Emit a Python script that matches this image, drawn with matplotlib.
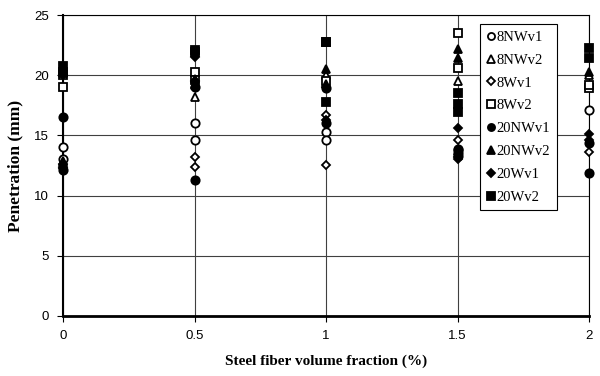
"""Penetration vs steel fiber volume fraction scatter."""

import matplotlib.pyplot as plt

fraction = [0, 0.5, 1, 1.5, 2]

# penetration (mm), replicates per fraction
pen_8nwv1 = [[14.0, 13.0], [16.0, 14.6], [15.3, 14.6], [13.5, 13.8], [17.1]]
pen_8nwv2 = [[12.5, 12.8], [18.2, 19.3], [22.8, 20.0], [19.5, 13.7], [20.0]]
pen_8wv1 = [[12.3, 12.6], [13.2, 12.4], [16.7, 12.5], [14.6, 13.2], [13.6]]
pen_8wv2 = [[19.0, 20.0], [20.3, 19.6], [22.8, 19.5], [23.5, 20.6], [18.9, 19.2]]
pen_20nwv1 = [[16.5, 12.1], [11.3, 19.0], [16.0, 18.9], [13.3, 13.9], [11.9, 14.4]]
pen_20nwv2 = [[20.2, 12.9], [19.7, 19.2], [20.5, 19.3], [22.2, 21.4], [20.3]]
pen_20wv1 = [[20.0, 12.4], [21.5, 19.5], [16.3, 19.0], [15.6, 13.0], [15.1, 14.6]]
pen_20wv2 = [[20.8, 20.3], [22.1, 21.9], [22.8, 17.8], [18.5, 17.6, 16.9], [22.3, 21.4]]

series = [
    ("8NWv1", pen_8nwv1, "o", "white"),
    ("8NWv2", pen_8nwv2, "^", "white"),
    ("8Wv1", pen_8wv1, "D", "white"),
    ("8Wv2", pen_8wv2, "s", "white"),
    ("20NWv1", pen_20nwv1, "o", "black"),
    ("20NWv2", pen_20nwv2, "^", "black"),
    ("20Wv1", pen_20wv1, "D", "black"),
    ("20Wv2", pen_20wv2, "s", "black"),
]

fig = plt.figure(figsize=(6, 3.76), dpi=100)
ax = fig.add_axes([0.105, 0.16, 0.877, 0.80])

for name, values, marker, face in series:
    xs = [x for x, reps in zip(fraction, values) for _ in reps]
    ys = [y for reps in values for y in reps]
    size = 4.5 if marker == "D" else 6
    ax.plot(xs, ys, linestyle="none", marker=marker, markersize=size,
            markerfacecolor=face, markeredgecolor="black",
            markeredgewidth=1.3, label=name, clip_on=False, zorder=3)

ax.set_xlim(0, 2)
ax.set_ylim(0, 25)
ax.set_xticks([0, 0.5, 1, 1.5, 2])
ax.set_xticklabels(["0", "0.5", "1", "1.5", "2"])
ax.set_yticks(range(0, 26, 5))
ax.grid(True, color="0.25", linewidth=0.8)
ax.set_axisbelow(True)

for side in ["top", "right"]:
    ax.spines[side].set_linewidth(0.8)
ax.spines["left"].set_linewidth(1.5)
ax.spines["bottom"].set_linewidth(2.0)
ax.tick_params(direction="out", length=4, width=0.8, labelsize=9.5,
               pad=6)
for lab in ax.get_xticklabels() + ax.get_yticklabels():
    lab.set_family("Liberation Sans")

ax.set_xlabel("Steel fiber volume fraction (%)", family="Liberation Serif",
              fontweight="bold", fontsize=11, labelpad=9)
ax.set_ylabel("Penetration (mm)", family="Liberation Serif",
              fontweight="bold", fontsize=12.5, labelpad=8)

leg = ax.legend(loc="upper left", bbox_to_anchor=(0.792, 0.97),
                prop={"family": "Liberation Serif", "size": 10.5},
                frameon=True, fancybox=False, framealpha=1,
                edgecolor="black", handlelength=0.6, handletextpad=0.1,
                labelspacing=0.66, borderpad=0.45, borderaxespad=0,
                markerscale=0.85)
leg.get_frame().set_linewidth(0.8)

fig.savefig("out.png", dpi=100)
